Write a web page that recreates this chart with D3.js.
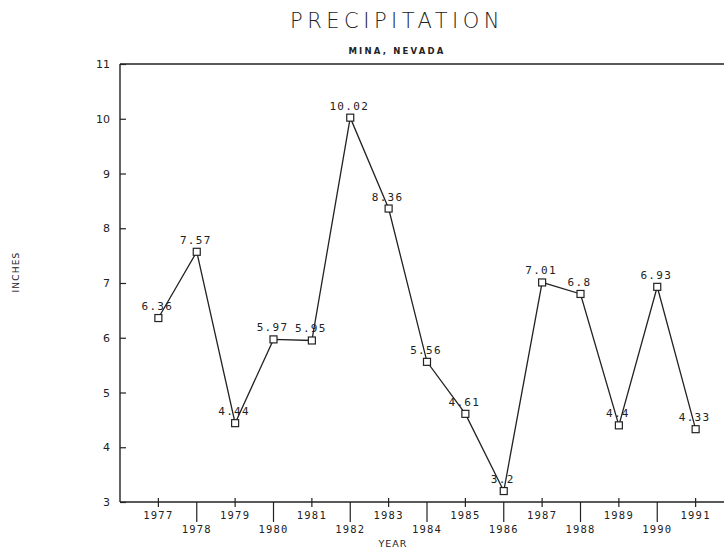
<!DOCTYPE html>
<html>
<head>
	<title>Precipitation</title>
	<script src="https://d3js.org/d3.v7.min.js"></script>
	<style>
	*{ margin:0; padding:0; }
	body { background:#fff; }
	svg text { fill:#222; }
	</style>
</head>
<body>
<svg id="chart" width="724" height="553"></svg>
<script>
	// data
	var years = [1977,1978,1979,1980,1981,1982,1983,1984,1985,1986,1987,1988,1989,1990,1991];
	var inches = [6.36,7.57,4.44,5.97,5.95,10.02,8.36,5.56,4.61,3.2,7.01,6.8,4.4,6.93,4.33];
	var labels = ["6.36","7.57","4.44","5.97","5.95","10.02","8.36","5.56","4.61","3.2","7.01","6.8","4.4","6.93","4.33"];
	var yTicks = [3,4,5,6,7,8,9,10,11];

	var svg = d3.select("#chart");
	var ink = "#222";

	var x = d3.scaleLinear().domain([1976, 1992]).range([120, 734]);
	var y = d3.scaleLinear().domain([3, 11]).range([502, 64]);

	// title
	svg.append("text").attr("x", 397).attr("y", 28)
		.attr("text-anchor", "middle")
		.style("font-family", "DejaVu Sans").style("font-weight", 200)
		.style("font-size", "21px").style("letter-spacing", "4.5px")
		.text("PRECIPITATION");
	svg.append("text").attr("x", 397).attr("y", 54)
		.attr("text-anchor", "middle")
		.style("font-family", "DejaVu Sans").style("font-weight", "bold")
		.style("font-size", "8.5px").style("letter-spacing", "2.2px")
		.text("MINA, NEVADA");

	// frame lines (top + left + bottom)
	svg.append("line").attr("x1", 120).attr("x2", 724).attr("y1", 64).attr("y2", 64)
		.attr("stroke", ink).attr("stroke-width", 1.6);
	svg.append("line").attr("x1", 120).attr("x2", 724).attr("y1", 502).attr("y2", 502)
		.attr("stroke", ink).attr("stroke-width", 1.6);
	svg.append("line").attr("x1", 120).attr("x2", 120).attr("y1", 64).attr("y2", 502)
		.attr("stroke", ink).attr("stroke-width", 1.4);

	// y axis
	var yAxis = d3.axisRight(y).tickValues(yTicks).tickSize(6).tickFormat(d3.format("d"));
	var gy = svg.append("g").attr("transform", "translate(120,0)").call(yAxis);
	gy.select(".domain").remove();
	gy.selectAll("line").attr("stroke", ink).attr("stroke-width", 1.2);
	gy.selectAll("text").attr("x", -10).attr("text-anchor", "end")
		.style("font-family", "DejaVu Sans").style("font-size", "11px");

	// x axis ticks: odd years short, even years long, staggered labels
	var gx = svg.append("g");
	gx.selectAll("line").data(years).enter().append("line")
		.attr("x1", d => x(d)).attr("x2", d => x(d))
		.attr("y1", d => d % 2 ? 498 : 502)
		.attr("y2", d => d % 2 ? 507 : 522)
		.attr("stroke", ink).attr("stroke-width", 1.2);
	gx.selectAll("text").data(years).enter().append("text")
		.attr("x", d => x(d))
		.attr("y", d => d % 2 ? 519 : 533)
		.attr("text-anchor", "middle")
		.style("font-family", "DejaVu Sans Mono").style("font-size", "10.5px")
		.style("letter-spacing", "1.2px")
		.text(d => d);

	svg.append("text").attr("x", 393).attr("y", 547).attr("text-anchor", "middle")
		.style("font-family", "DejaVu Sans").style("font-size", "9.5px").style("letter-spacing", "1px")
		.text("YEAR");
	svg.append("text").attr("transform", "translate(19,272) rotate(-90)")
		.attr("text-anchor", "middle")
		.style("font-family", "DejaVu Sans").style("font-size", "9px").style("letter-spacing", "1.2px")
		.text("INCHES");

	// line + markers
	var pts = years.map((d, i) => [d, inches[i], labels[i]]);
	var line = d3.line().x(d => x(d[0])).y(d => y(d[1]));
	svg.append("path").attr("d", line(pts))
		.attr("fill", "none").attr("stroke", ink).attr("stroke-width", 1.3);

	svg.selectAll(".mk").data(pts).enter().append("rect")
		.attr("class", "mk")
		.attr("x", d => x(d[0]) - 3.5).attr("y", d => y(d[1]) - 3.5)
		.attr("width", 7).attr("height", 7)
		.attr("fill", "#fff").attr("stroke", ink).attr("stroke-width", 1.2);

	svg.selectAll(".lb").data(pts).enter().append("text")
		.attr("class", "lb")
		.attr("x", d => x(d[0]) - 1).attr("y", d => y(d[1]) - 8)
		.attr("text-anchor", "middle")
		.style("font-family", "DejaVu Sans Mono").style("font-size", "11px")
		.style("letter-spacing", "1.3px")
		.text(d => d[2]);
</script>
</body>
</html>
